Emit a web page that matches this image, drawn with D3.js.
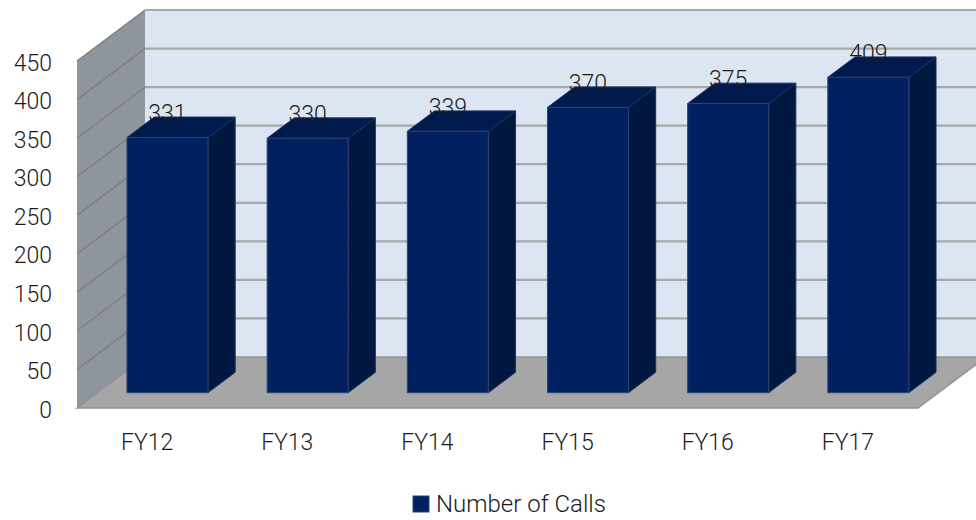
<!DOCTYPE html>
<html>
<head>
<meta charset="utf-8">
<script src="https://cdn.jsdelivr.net/npm/d3@7"></script>
<style>
  body { margin: 0; background: #fff; }
  svg text { font-family: "Segoe UI Light", Roboto, "Open Sans", sans-serif; font-weight: 300; fill: #1a1a1a; }
</style>
</head>
<body>
<svg width="976" height="520"></svg>
<script>
const categories = ["FY12", "FY13", "FY14", "FY15", "FY16", "FY17"];
const calls = [331, 330, 339, 370, 375, 409];
const yTicks = [0, 50, 100, 150, 200, 250, 300, 350, 400, 450];
const seriesName = "Number of Calls";

const svg = d3.select("svg");

// depth of the 3d box (front plane -> back wall)
const DX = 68, DY = -51;
function off(p, depth) { return [p[0] + DX * depth, p[1] + DY * depth]; }

const x = d3.scaleBand()
    .domain(categories)
    .range([77, 918])
    .paddingInner(0.422)
    .paddingOuter(0.211);

const y = d3.scaleLinear()
    .domain([0, 450])
    .range([408, 61]);

const line = d3.line();

// left side wall
svg.append("path")
    .attr("d", line([[77, y(450)], off([77, y(450)], 1), off([77, y(0)], 1), [77, y(0)]]) + "Z")
    .attr("fill", "#8e959c");

// back wall
svg.append("path")
    .attr("d", line([off([77, y(450)], 1), [1000, y(450) + DY], [1000, y(0) + DY], off([77, y(0)], 1)]) + "Z")
    .attr("fill", "#dce6f2");

// floor
svg.append("path")
    .attr("d", line([[77, y(0)], off([77, y(0)], 1), off([918, y(0)], 1), [918, y(0)]]) + "Z")
    .attr("fill", "#a6a6a6")
    .attr("stroke", "#939393")
    .attr("stroke-width", 1.5);

// gridlines on side wall and back wall
const grid = svg.append("g");
yTicks.forEach(t => {
    if (t === 0) return;
    let a = [77, y(t)];
    let b = off(a, 1);
    grid.append("path")
        .attr("d", line([a, b]))
        .attr("stroke", "#7e7a76")
        .attr("stroke-width", 1.2)
        .attr("fill", "none");
    grid.append("path")
        .attr("d", line([b, [1000, b[1]]]))
        .attr("stroke", "#a8a8a8")
        .attr("stroke-width", 2.2)
        .attr("fill", "none");
});

// y axis labels
const yAxis = d3.axisLeft(y)
    .tickValues(yTicks)
    .tickSize(0)
    .tickPadding(25);
const ya = svg.append("g")
    .attr("transform", "translate(77,0)")
    .call(yAxis);
ya.select(".domain").remove();
ya.selectAll("text")
    .attr("font-size", 23)
    .attr("dy", "0.4em")
    .style("font-family", null)
    .attr("fill", "#1a1a1a");

// x axis labels
const xAxis = d3.axisBottom(x).tickSize(0).tickPadding(26);
const xa = svg.append("g")
    .attr("transform", "translate(0," + y(0) + ")")
    .call(xAxis);
xa.select(".domain").remove();
xa.selectAll("text")
    .attr("font-size", 23)
    .attr("fill", "#1a1a1a");

// bars: sit from depth 0.3 to 0.7
const d0 = 0.3, d1 = 0.7;
const bars = svg.append("g")
    .selectAll("g")
    .data(calls)
    .enter()
    .append("g");

bars.each(function(v, i) {
    const g = d3.select(this);
    const xl = x(categories[i]), xr = xl + x.bandwidth();
    const fl = off([xl, y(v)], d0), fr = off([xr, y(v)], d0);
    const bl = off([xl, y(0)], d0), br = off([xr, y(0)], d0);
    const tl = off([xl, y(v)], d1), tr = off([xr, y(v)], d1);
    const sb = off([xr, y(0)], d1);

    g.append("path")
        .attr("d", line([fr, tr, sb, br]) + "Z")
        .attr("fill", "#001740")
        .attr("stroke", "#1c3360").attr("stroke-width", 1);
    g.append("path")
        .attr("d", line([fl, tl, tr, fr]) + "Z")
        .attr("fill", "#001a4e")
        .attr("stroke", "#1c3360").attr("stroke-width", 1);
    g.append("path")
        .attr("d", line([fl, fr, br, bl]) + "Z")
        .attr("fill", "#002060")
        .attr("stroke", "#2a4677").attr("stroke-width", 1);

    g.append("text")
        .attr("x", (fl[0] + fr[0]) / 2)
        .attr("y", tl[1] + 4)
        .attr("text-anchor", "middle")
        .attr("font-size", 23)
        .text(v);
});

// legend
const legend = svg.append("g").attr("transform", "translate(413,496)");
legend.append("rect")
    .attr("width", 16).attr("height", 16)
    .attr("fill", "#002060")
    .attr("stroke", "#2a4677");
legend.append("text")
    .attr("x", 23)
    .attr("y", 16)
    .attr("font-size", 24)
    .text(seriesName);
</script>
</body>
</html>
